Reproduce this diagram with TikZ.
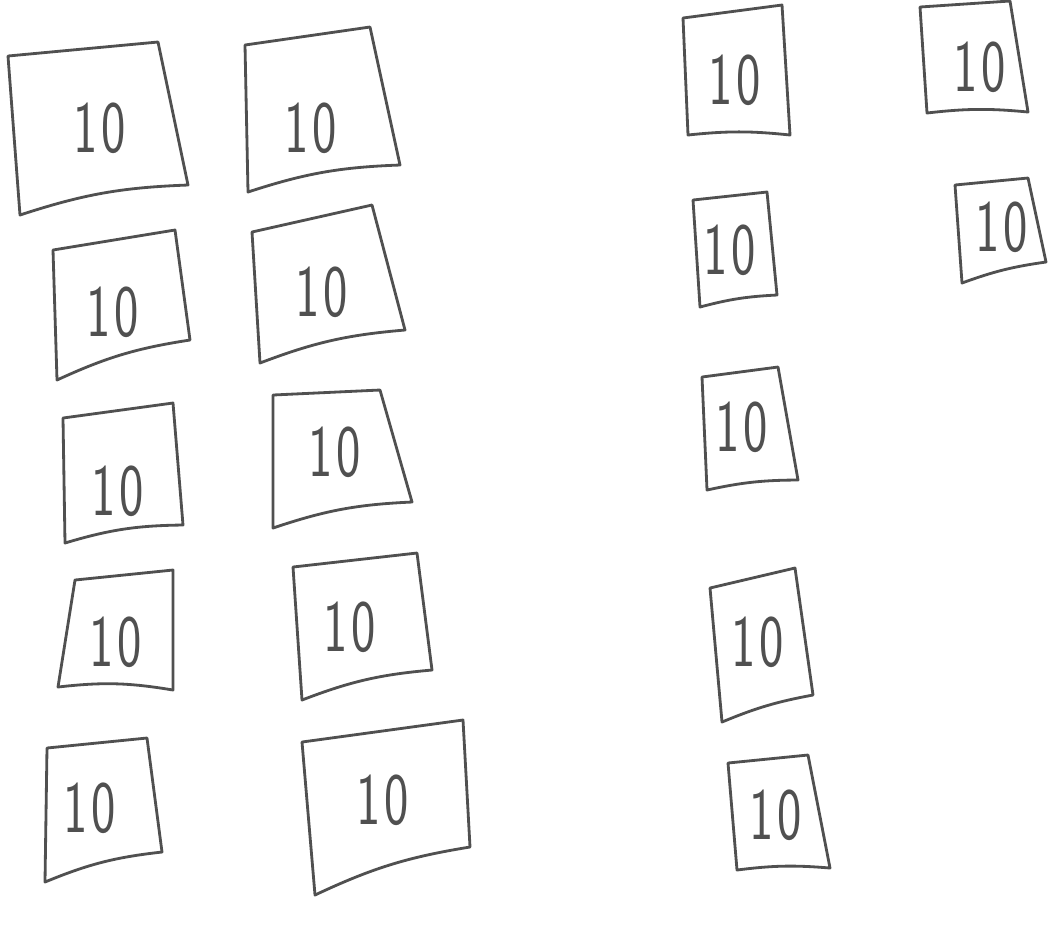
\documentclass[tikz,border=0pt]{standalone}
\usepackage{tikz}
\usepackage{xcolor}
\definecolor{pencil}{HTML}{505050}

\begin{document}
\begin{tikzpicture}[x=0.01cm,y=-0.01cm,
    card/.style={pencil, line width=0.8pt, line join=round},
    num/.style={pencil, font=\sffamily\fontsize{21}{21}\selectfont, inner sep=0pt}]
  \useasboundingbox (0,0) rectangle (1049,926);
  % left block: two columns of five
  \foreach \n/\ax/\ay/\bx/\by/\cx/\cy/\dx/\dy/\tx/\ty in {
      a1/8/56/158/42/188/185/20/215/100/128,
      a2/245/45/370/27/400/165/248/192/311/128,
      b1/53/250/175/230/190/340/57/380/113/312,
      b2/252/232/372/205/405/330/260/363/322/292,
      c1/63/418/173/403/183/525/65/543/118/491,
      c2/273/395/380/390/412/502/273/528/335/452,
      d1/75/580/173/570/173/690/58/687/116/642,
      d2/293/567/417/553/432/670/302/700/350/627,
      e1/47/748/147/738/162/852/45/882/90/808,
      e2/302/742/463/720/470/847/315/895/383/800}
  {
    \draw[card] (\ax,\ay) -- (\bx,\by) -- (\cx,\cy) to[bend right=8] (\dx,\dy) -- cycle;
    \node[num] (\n) at (\tx,\ty) {\scalebox{.7}[1]{1\kern1.5pt0}};
  }
  % right block: a column of five and a column of two
  \foreach \n/\ax/\ay/\bx/\by/\cx/\cy/\dx/\dy/\tx/\ty in {
      f1/683/18/782/5/790/135/688/135/735/80,
      f2/693/200/767/192/777/295/700/307/730/250,
      f3/702/377/778/367/798/480/707/490/742/427,
      f4/710/588/795/568/813/695/722/722/758/642,
      f5/728/763/808/755/830/868/737/870/776/815,
      g1/920/7/1010/1/1028/112/927/113/980/67,
      g2/955/185/1028/178/1046/262/962/283/1002/227}
  {
    \draw[card] (\ax,\ay) -- (\bx,\by) -- (\cx,\cy) to[bend right=6] (\dx,\dy) -- cycle;
    \node[num] (\n) at (\tx,\ty) {\scalebox{.7}[1]{1\kern1.5pt0}};
  }
\end{tikzpicture}
\end{document}
